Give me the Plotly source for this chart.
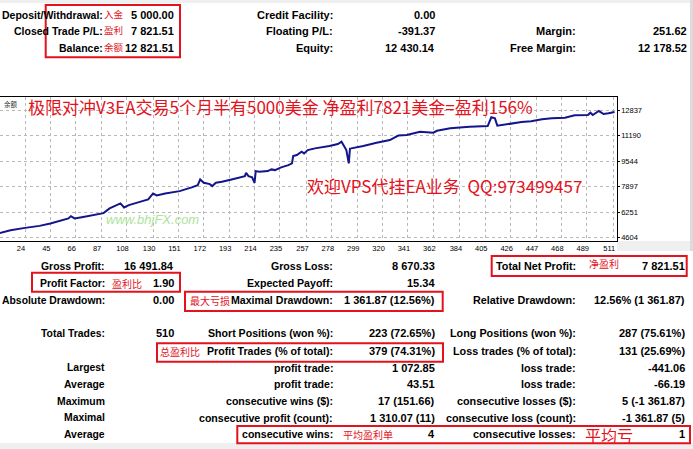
import plotly.graph_objects as go

W, H = 693, 449

# balance curve: trade number and balance
trades = [3, 12, 24, 36, 45, 53, 60, 62, 65, 71,
          76, 83, 89, 94, 101, 103, 106, 110, 119, 126,
          130, 133, 140, 152, 162, 167, 169, 172, 177, 179,
          182, 187, 195, 203, 206, 207, 209, 212, 214, 215,
          218, 225, 228, 231, 236, 242, 245, 246, 249, 253,
          255, 258, 264, 276, 283, 286, 288, 290, 292, 293,
          294, 304, 315, 326, 333, 340, 351, 362, 365, 376,
          392, 407, 410, 413, 415, 424, 435, 443, 452, 460,
          471, 479, 490, 492, 494, 499, 503, 507, 512]
balance = [4895, 5089, 5237, 5366, 5521, 5670, 5844, 5993, 5844, 5928,
           5993, 6077, 6186, 6490, 6703, 6813, 6554, 6703, 6916, 7071,
           7458, 7329, 7458, 7607, 7846, 7994, 8362, 8143, 8059, 7930,
           8143, 8207, 8362, 8491, 8575, 8788, 8575, 8491, 8143, 8898,
           8853, 8898, 9008, 8963, 9137, 9286, 9395, 9867, 9931, 10144,
           10041, 10254, 10364, 10512, 10642, 10790, 10512, 10254, 9395, 10351,
           10364, 10512, 10726, 10900, 11190, 11223, 11436, 11371, 11500, 11655,
           11759, 11804, 12366, 12301, 11823, 11933, 12062, 12107, 12237, 12301,
           12340, 12495, 12514, 12663, 12514, 12772, 12579, 12624, 12708]

x_ticks = [24, 45, 66, 87, 108, 130, 151, 172, 193, 214, 235, 257,
           278, 299, 320, 341, 362, 384, 405, 426, 447, 468, 489, 511]
y_ticks = [4604, 6251, 7897, 9544, 11190, 12837]

# report header
head_labels = ["Deposit/Withdrawal:", "Closed Trade P/L:", "Balance:"]
head_values = ["5 000.00", "7 821.51", "12 821.51"]
head_notes = ["入金", "盈利", "余额"]
mid_labels = ["Credit Facility:", "Floating P/L:", "Equity:"]
mid_values = ["0.00", "-391.37", "12 430.14"]
right_labels = ["", "Margin:", "Free Margin:"]
right_values = ["", "251.62", "12 178.52"]

# report statistics, one list per row
stats_rows = [
    ["Gross Profit:", "16 491.84", "Gross Loss:", "8 670.33", "Total Net Profit:", "7 821.51"],
    ["Profit Factor:", "1.90", "Expected Payoff:", "15.34", "", ""],
    ["Absolute Drawdown:", "0.00", "Maximal Drawdown:", "1 361.87 (12.56%)", "Relative Drawdown:", "12.56% (1 361.87)"],
    ["Total Trades:", "510", "Short Positions (won %):", "223 (72.65%)", "Long Positions (won %):", "287 (75.61%)"],
    ["", "", "Profit Trades (% of total):", "379 (74.31%)", "Loss trades (% of total):", "131 (25.69%)"],
    ["Largest", "", "profit trade:", "1 072.85", "loss trade:", "-441.06"],
    ["Average", "", "profit trade:", "43.51", "loss trade:", "-66.19"],
    ["Maximum", "", "consecutive wins ($):", "17 (151.66)", "consecutive losses ($):", "5 (-1 361.87)"],
    ["Maximal", "", "consecutive profit (count):", "1 310.07 (11)", "consecutive loss (count):", "-1 361.87 (5)"],
    ["Average", "", "consecutive wins:", "4", "consecutive losses:", "1"],
]

title_1 = "极限对冲V3EA交易5个月半有5000美金 净盈利7821美金=盈利156%"
title_2 = "欢迎VPS代挂EA业务  QQ:973499457"

RED = "#e3121c"
FONT = "Liberation Sans"
CJK = "Noto Sans CJK SC"

fig = go.Figure()
fig.add_trace(go.Scatter(x=trades, y=balance, mode="lines",
                         line=dict(color="#14148c", width=2), hoverinfo="skip"))


def px(x):
    return x / W


def py(y):
    return 1 - y / H


def put(x, y, text, anchor="right", size=11, color="black", family=FONT, weight="bold", **kw):
    if not text:
        return
    fig.add_annotation(x=px(x), y=py(y), xref="paper", yref="paper", text=text,
                       showarrow=False, xanchor=anchor, yanchor="middle", borderpad=0,
                       font=dict(family=family, size=size, color=color, weight=weight), **kw)


def box(x0, y0, x1, y1):
    fig.add_shape(type="rect", xref="paper", yref="paper", layer="above",
                  x0=px(x0), x1=px(x1), y0=py(y0), y1=py(y1),
                  line=dict(color=RED, width=2))


def band(x0, y0, x1, y1, color="#efefef"):
    fig.add_shape(type="rect", xref="paper", yref="paper", layer="below",
                  x0=px(x0), x1=px(x1), y0=py(y0), y1=py(y1),
                  line=dict(width=0), fillcolor=color)


# light grey window edges
band(0, 0, W, 3)
band(0, 443, W, H)
band(617, 241, W, 251)
band(690, 0, W, 251, "#dcdcdc")

# header block
for i, yy in enumerate([14.7, 31.3, 48]):
    put(104, yy, head_labels[i], size=10.5)
    put(175, yy, head_values[i])
    put(103, yy - 1, head_notes[i], anchor="left", size=9.5, color=RED, family=CJK, weight="normal")
    put(334, yy, mid_labels[i])
    put(436, yy, mid_values[i])
    put(577, yy, right_labels[i])
    put(688, yy, right_values[i])
box(45.7, 5, 180, 57.3)

# statistics block
row_y = [266, 283.3, 300, 333.3, 351, 367.7, 384.3, 401, 417.7, 434.3]
for yy, row in zip(row_y, stats_rows):
    put(106, yy, row[0], size=10.4)
    put(175, yy, row[1])
    put(334, yy, row[2], size=10.6)
    put(436, yy, row[3])
    put(577, yy, row[4], size=10.8)
    put(686, yy, row[5])

note = dict(anchor="left", size=10, color=RED, family=CJK, weight="normal")
put(588, 263, "净盈利", **note)
put(111, 283.3, "盈利比", **note)
put(189, 300, "最大亏损", **note)
put(159, 351, "总盈利比", **note)
put(342, 434.3, "平均盈利单", **note)
put(584, 435, "平均亏", anchor="left", size=16, color=RED, family=CJK, weight="normal")

box(491.7, 256, 686.7, 276)
box(32, 272.7, 180, 291.7)
box(185, 291.7, 442.7, 311)
box(157, 343.3, 443, 361.7)
box(237.3, 426, 690, 443.3)

# texts inside the chart
put(2.5, 104, "余额", anchor="left", size=6.5, color="#333333", family=CJK, weight="normal")
put(27, 106.5, title_1, anchor="left", size=17, color=RED, family=CJK, weight="normal")
put(306, 185, title_2, anchor="left", size=17, color=RED, family=CJK, weight="normal")
put(105, 219, "<i>www.bhjFX.com</i>", anchor="left", size=13, color="#ade39c", weight="normal")

fig.update_xaxes(
    domain=[0, px(616.7)], range=[3.3, 513.8],
    tickvals=x_ticks, ticktext=[str(v) for v in x_ticks],
    showgrid=True, gridcolor="#b8b8b8", griddash="dot", gridwidth=1,
    showline=True, linecolor="black", linewidth=1, mirror=True,
    zeroline=False, ticks="", ticklabelshift=-4, ticklabelstandoff=0,
    tickfont=dict(family=FONT, size=7.5, color="black"), automargin=False,
)
fig.update_yaxes(
    domain=[py(240.7), py(96.7)], range=[4410, 13696], side="right",
    tickvals=y_ticks, ticktext=[str(v) for v in y_ticks],
    showgrid=True, gridcolor="#b8b8b8", griddash="dot", gridwidth=1,
    showline=True, linecolor="black", linewidth=1, mirror=True,
    zeroline=False, ticks="outside", ticklen=2, tickcolor="black",
    tickfont=dict(family=FONT, size=7.5, color="black"), automargin=False,
)
fig.update_layout(
    width=W, height=H,
    margin=dict(l=0, r=0, t=0, b=0, pad=0, autoexpand=False),
    paper_bgcolor="white", plot_bgcolor="white",
    showlegend=False,
)

# the page's default body margin would shift the figure by 8px
fig.write_html("out.html", config={"displayModeBar": False},
               post_script="document.body.style.margin='0';document.body.style.overflow='hidden';")
